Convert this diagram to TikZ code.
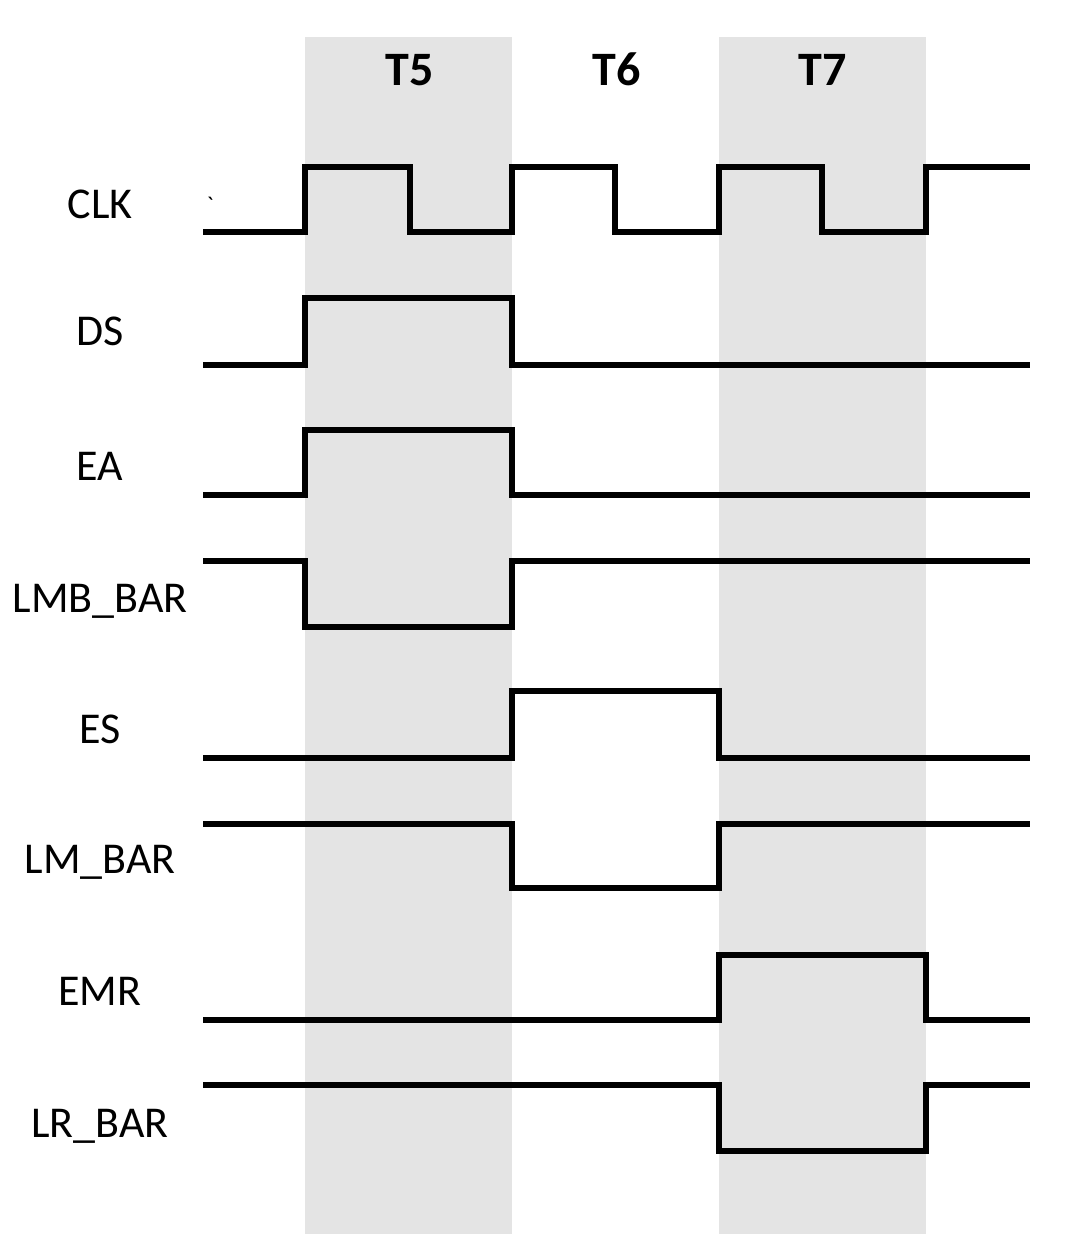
\documentclass[tikz,border=0pt]{standalone}
\usepackage{fontspec}
\setmainfont{Carlito}
\definecolor{bandgray}{RGB}{228,228,228}

\begin{document}
\begin{tikzpicture}[x=1pt,y=-1pt,
    wave/.style={line width=6.8pt, line join=miter},
    siglabel/.style={anchor=base, font=\fontsize{44}{48}\selectfont},
    phaselabel/.style={anchor=base, font=\bfseries\fontsize{48}{52}\selectfont}]
	\useasboundingbox (0,0) rectangle (1068,1234);
	% time slots
	\fill[bandgray] (305,37) rectangle (512,1234);
	\fill[bandgray] (719,37) rectangle (926,1234);
	\node[phaselabel] (t5) at (410,85) {T5};
	\node[phaselabel] (t6) at (617,85) {T6};
	\node[phaselabel] (t7) at (823,85) {T7};
	% signal names
	\node[siglabel] (clk) at (100,218) {CLK};
	\node[siglabel] (ds) at (100,345) {DS};
	\node[siglabel] (ea) at (100,480) {EA};
	\node[siglabel] (lmbbar) at (100,612) {LMB\_BAR};
	\node[siglabel] (es) at (100,743) {ES};
	\node[siglabel] (lmbar) at (100,873) {LM\_BAR};
	\node[siglabel] (emr) at (100,1005) {EMR};
	\node[siglabel] (lrbar) at (100,1137) {LR\_BAR};
	\node[anchor=base, font=\fontsize{24}{26}\selectfont] (tick) at (210,213) {\textasciigrave};
	% waveforms
	\draw[wave] (203,232) -- (305,232) -- (305,167) -- (410,167) -- (410,232) -- (512,232) -- (512,167)
		-- (615,167) -- (615,232) -- (719,232) -- (719,167) -- (822,167) -- (822,232) -- (926,232)
		-- (926,167) -- (1030,167);
	\draw[wave] (203,365) -- (305,365) -- (305,298) -- (512,298) -- (512,365) -- (1030,365);
	\draw[wave] (203,495) -- (305,495) -- (305,430) -- (512,430) -- (512,495) -- (1030,495);
	\draw[wave] (203,561) -- (305,561) -- (305,627) -- (512,627) -- (512,561) -- (1030,561);
	\draw[wave] (203,758) -- (512,758) -- (512,691) -- (719,691) -- (719,758) -- (1030,758);
	\draw[wave] (203,824) -- (512,824) -- (512,888) -- (719,888) -- (719,824) -- (1030,824);
	\draw[wave] (203,1020) -- (719,1020) -- (719,955) -- (926,955) -- (926,1020) -- (1030,1020);
	\draw[wave] (203,1085) -- (719,1085) -- (719,1151) -- (926,1151) -- (926,1085) -- (1030,1085);
\end{tikzpicture}
\end{document}
